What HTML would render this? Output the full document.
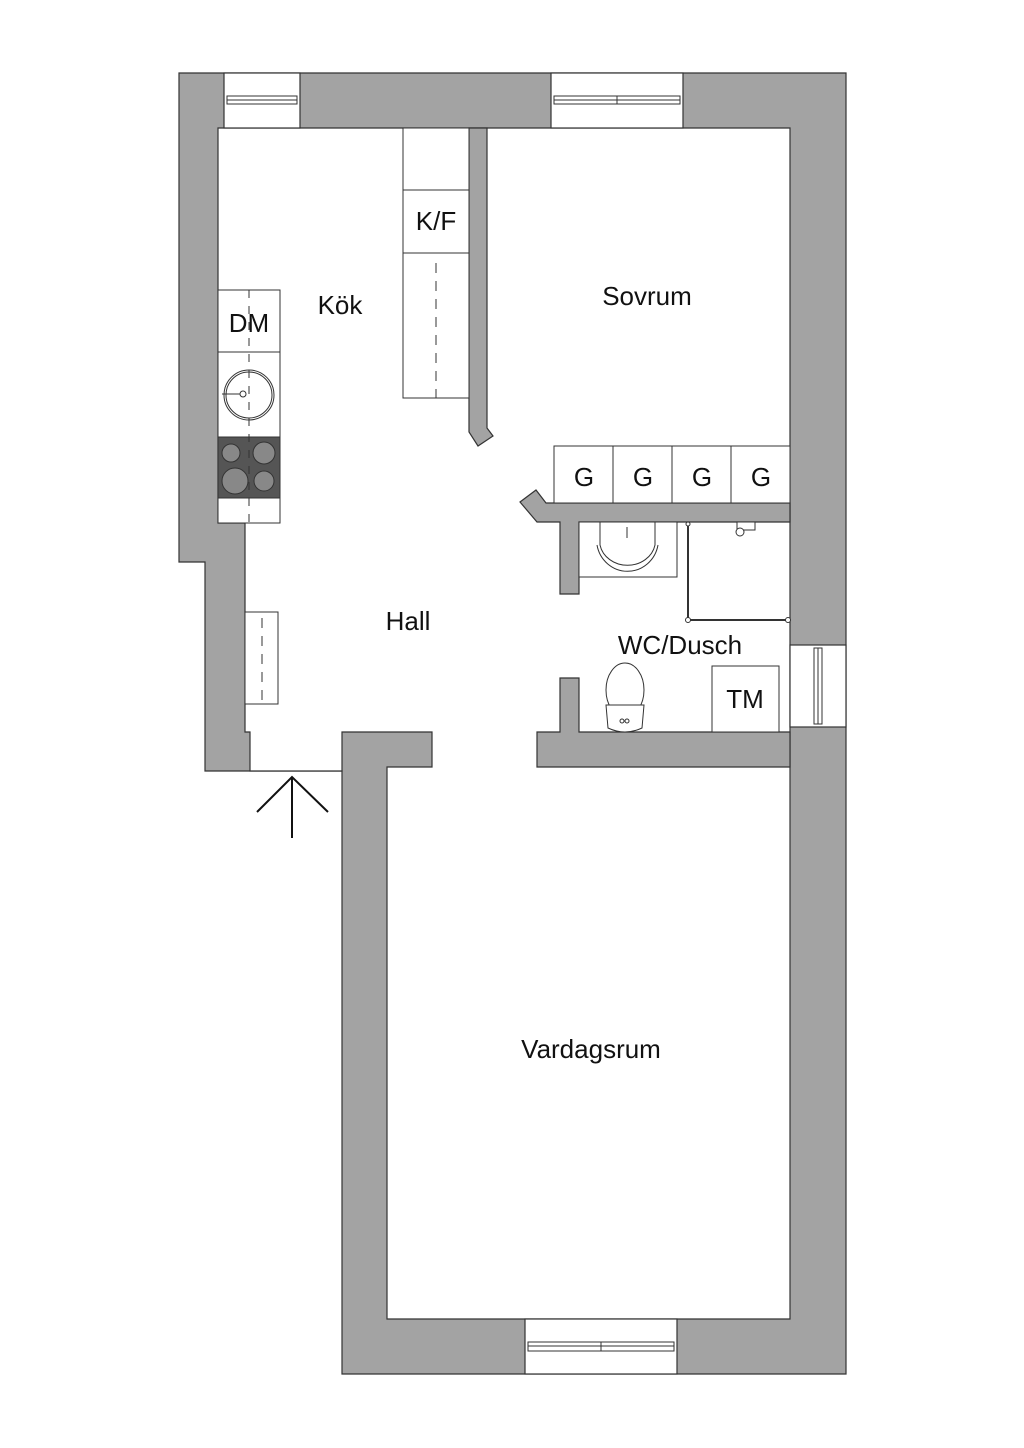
<!DOCTYPE html>
<html><head><meta charset="utf-8"><style>
html,body{margin:0;padding:0;background:#fff}
svg{display:block}
text{font-family:"Liberation Sans",sans-serif;fill:#111}
</style></head><body>
<svg width="1024" height="1448" viewBox="0 0 1024 1448" xmlns="http://www.w3.org/2000/svg">
<g stroke="#333" stroke-width="1.2">
<polygon fill="#a3a3a3" points="179,73 846,73 846,1374 342,1374 342,771 205,771 205,562 179,562"/>
<polygon fill="#fff" points="218,128 790,128 790,1319 387,1319 387,767 432,767 432,732 342,732 342,771 250,771 250,732 245,732 245,523 218,523"/>
<polygon fill="#a3a3a3" points="469,128 487,128 487,428 493,436 478,446 469,432"/>
<polygon fill="#a3a3a3" points="790,503 546,503 536,490 520,502 537,522 560,522 560,594 579,594 579,522 790,522"/>
<polygon fill="#a3a3a3" points="537,767 790,767 790,732 579,732 579,678 560,678 560,732 537,732"/>
<rect x="224" y="73" width="76" height="55" fill="#fff"/>
<rect x="551" y="73" width="132" height="55" fill="#fff"/>
<rect x="525" y="1319" width="152" height="55" fill="#fff"/>
<rect x="790" y="645" width="56" height="82" fill="#fff"/>
</g>
<g stroke="#333" stroke-width="1" fill="none">
<rect x="227" y="96" width="70" height="8"/><line x1="227" y1="100" x2="297" y2="100"/>
<rect x="554" y="96" width="126" height="8"/><line x1="554" y1="100" x2="680" y2="100"/><line x1="617" y1="96" x2="617" y2="104"/>
<rect x="528" y="1342" width="146" height="9"/><line x1="528" y1="1346" x2="674" y2="1346"/><line x1="601" y1="1342" x2="601" y2="1351"/>
<rect x="814" y="648" width="8" height="76"/><line x1="818" y1="648" x2="818" y2="724"/>
<line x1="250" y1="771" x2="342" y2="771"/>
</g>
<g stroke="#111" stroke-width="2" fill="none">
<line x1="292" y1="778" x2="292" y2="838"/><polyline points="257,812 292,777 328,812"/>
</g>
<g stroke="#333" stroke-width="1" fill="#fff">
<rect x="218" y="290" width="62" height="233"/>
<line x1="218" y1="352" x2="280" y2="352"/>
<line x1="218" y1="437" x2="280" y2="437"/>
<rect x="218" y="437" width="62" height="61" fill="#555"/>
<line x1="249" y1="290" x2="249" y2="523" stroke-dasharray="8,8"/>
<circle cx="249" cy="395" r="25" fill="none"/><circle cx="249" cy="395" r="23" fill="none"/>
<circle cx="243" cy="394" r="3"/><line x1="222" y1="394" x2="240" y2="394"/>
<circle cx="231" cy="453" r="9" fill="#888"/><circle cx="264" cy="453" r="11" fill="#888"/>
<circle cx="235" cy="481" r="13" fill="#888"/><circle cx="264" cy="481" r="10" fill="#888"/>
<rect x="403" y="128" width="66" height="270"/>
<line x1="403" y1="190" x2="469" y2="190"/><line x1="403" y1="253" x2="469" y2="253"/>
<line x1="436" y1="263" x2="436" y2="398" stroke-dasharray="10,8"/>
<rect x="554" y="446" width="236" height="57"/>
<line x1="613" y1="446" x2="613" y2="503"/><line x1="672" y1="446" x2="672" y2="503"/><line x1="731" y1="446" x2="731" y2="503"/>
<rect x="245" y="612" width="33" height="92"/>
<line x1="262" y1="618" x2="262" y2="704" stroke-dasharray="10,8"/>
<rect x="579" y="522" width="98" height="55"/>
<path d="M600,522 L600,545 A28,25 0 0 0 655,545 L655,522" fill="none"/>
<path d="M597,545 A31,32 0 0 0 658,545" fill="none"/>
<line x1="627" y1="527" x2="627" y2="538"/>
<polyline points="688,522 688,620 790,620" fill="none" stroke-width="2"/>
<circle cx="688" cy="620" r="2.5"/><circle cx="788" cy="620" r="2.5"/><circle cx="688" cy="524" r="2"/>
<rect x="737" y="522" width="18" height="8"/><circle cx="740" cy="532" r="4"/>
<ellipse cx="625" cy="690" rx="19" ry="27"/>
<path d="M606,705 L608,728 Q625,736 642,728 L644,705 Z"/>
<circle cx="622" cy="721" r="2"/><circle cx="627" cy="721" r="2"/>
<rect x="712" y="666" width="67" height="66"/>
</g>
<g font-size="26">
<text x="436" y="230" text-anchor="middle">K/F</text>
<text x="249" y="332" text-anchor="middle">DM</text>
<text x="340" y="314" text-anchor="middle">Kök</text>
<text x="647" y="305" text-anchor="middle">Sovrum</text>
<text x="584" y="486" text-anchor="middle">G</text><text x="643" y="486" text-anchor="middle">G</text>
<text x="702" y="486" text-anchor="middle">G</text><text x="761" y="486" text-anchor="middle">G</text>
<text x="408" y="630" text-anchor="middle">Hall</text>
<text x="680" y="654" text-anchor="middle">WC/Dusch</text>
<text x="745" y="708" text-anchor="middle">TM</text>
<text x="591" y="1058" text-anchor="middle">Vardagsrum</text>
</g>
</svg>
</body></html>
